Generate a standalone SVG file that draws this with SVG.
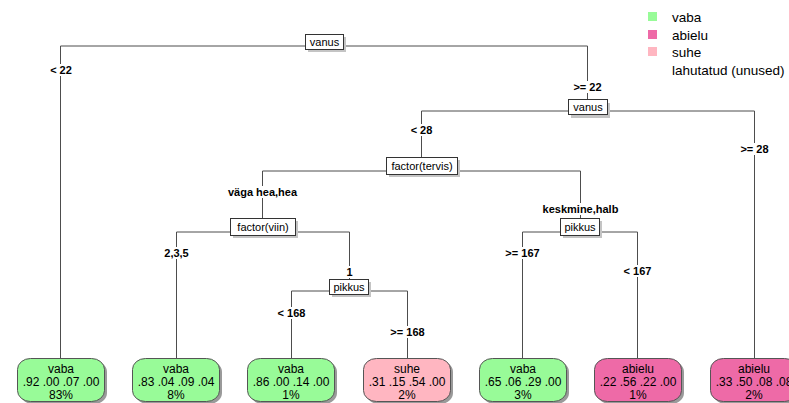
<svg xmlns="http://www.w3.org/2000/svg" width="789" height="403" viewBox="0 0 789 403">
  <style>
    text { font-family: "Liberation Sans", Arial, sans-serif; }
    .edge { stroke: #4d4d4d; stroke-width: 1; fill: none; }
    .split rect.box { fill: #ffffff; stroke: #333333; stroke-width: 1; }
    .split rect.shadow { fill: #c4c4c4; }
    .split text { font-size: 11px; fill: #000; text-anchor: middle; }
    .lab rect { fill: #ffffff; }
    .lab text { font-size: 11px; font-weight: bold; fill: #000; text-anchor: middle; }
    .leaf rect.shadow { fill: #9a9a9a; }
    .leaf rect.box { stroke: #555555; stroke-width: 1; }
    .leaf text { font-size: 12px; fill: #000; text-anchor: middle; }
    .vaba { fill: #98fb98; }
    .abielu { fill: #ee6aa7; }
    .suhe { fill: #ffb6c1; }
    .legend text { font-size: 13.5px; fill: #000; }
  </style>

  <rect width="789" height="403" fill="#ffffff"/>

  <!-- branches -->
  <g id="connectors">
    <path class="edge" d="M60.5,358 V46 H587.5 V100"/>
    <path class="edge" d="M421.5,157 V111 H754.5 V358"/>
    <path class="edge" d="M262.5,218 V171 H580.5 V218"/>
    <path class="edge" d="M176.5,358 V232 H349.5 V279"/>
    <path class="edge" d="M522.5,358 V232 H637.5 V358"/>
    <path class="edge" d="M291.5,358 V291 H407.5 V358"/>
  </g>

  <!-- branch labels -->
  <g id="edge-labels" class="lab">
    <rect x="47" y="64" width="28" height="12"/><text x="61" y="74">&lt; 22</text>
    <rect x="571" y="81" width="33" height="12"/><text x="587.5" y="91">&gt;= 22</text>
    <rect x="407" y="124" width="28" height="12"/><text x="421.5" y="134">&lt; 28</text>
    <rect x="738" y="143" width="33" height="12"/><text x="754.5" y="153">&gt;= 28</text>
    <rect x="222" y="186" width="81" height="12"/><text x="262.5" y="196">väga hea,hea</text>
    <rect x="541" y="203" width="79" height="12"/><text x="580.5" y="213">keskmine,halb</text>
    <rect x="160" y="247" width="33" height="12"/><text x="176.5" y="257">2,3,5</text>
    <rect x="343" y="266" width="13" height="12"/><text x="349.5" y="276">1</text>
    <rect x="503" y="247" width="39" height="12"/><text x="522.5" y="257">&gt;= 167</text>
    <rect x="621" y="265" width="34" height="12"/><text x="637.5" y="275">&lt; 167</text>
    <rect x="274" y="307" width="35" height="12"/><text x="291.5" y="317">&lt; 168</text>
    <rect x="388" y="326" width="39" height="12"/><text x="407.5" y="336">&gt;= 168</text>
  </g>

  <!-- split nodes -->
  <g id="node-root" class="split">
    <rect class="shadow" x="308" y="37" width="38" height="15"/>
    <rect class="box" x="305.5" y="34.5" width="38" height="15"/>
    <text x="324.5" y="46">vanus</text>
  </g>
  <g id="node-vanus2" class="split">
    <rect class="shadow" x="571" y="103" width="39" height="15"/>
    <rect class="box" x="568.5" y="99.5" width="39" height="15"/>
    <text x="588" y="111">vanus</text>
  </g>
  <g id="node-tervis" class="split">
    <rect class="shadow" x="389" y="160" width="71" height="17"/>
    <rect class="box" x="386.5" y="157.5" width="71" height="17"/>
    <text x="422" y="170">factor(tervis)</text>
  </g>
  <g id="node-viin" class="split">
    <rect class="shadow" x="233" y="221" width="65" height="17"/>
    <rect class="box" x="230.5" y="218.5" width="65" height="17"/>
    <text x="263" y="231">factor(viin)</text>
  </g>
  <g id="node-pikkus1" class="split">
    <rect class="shadow" x="332" y="282" width="39" height="15"/>
    <rect class="box" x="329.5" y="279.5" width="39" height="15"/>
    <text x="349" y="291">pikkus</text>
  </g>
  <g id="node-pikkus2" class="split">
    <rect class="shadow" x="563" y="221" width="39" height="17"/>
    <rect class="box" x="560.5" y="218.5" width="39" height="17"/>
    <text x="580" y="231">pikkus</text>
  </g>

  <!-- leaves -->
  <g id="leaf-1" class="leaf">
    <rect class="shadow" x="20" y="361" width="87" height="43" rx="13" ry="11"/>
    <rect class="box vaba" x="17.5" y="358.5" width="87" height="43" rx="13" ry="11"/>
    <text x="61" y="373">vaba</text>
    <text x="61" y="386">.92 .00 .07 .00</text>
    <text x="61" y="399">83%</text>
  </g>
  <g id="leaf-2" class="leaf">
    <rect class="shadow" x="135" y="361" width="87" height="43" rx="13" ry="11"/>
    <rect class="box vaba" x="132.5" y="358.5" width="87" height="43" rx="13" ry="11"/>
    <text x="176" y="373">vaba</text>
    <text x="176" y="386">.83 .04 .09 .04</text>
    <text x="176" y="399">8%</text>
  </g>
  <g id="leaf-3" class="leaf">
    <rect class="shadow" x="250" y="361" width="87" height="43" rx="13" ry="11"/>
    <rect class="box vaba" x="247.5" y="358.5" width="87" height="43" rx="13" ry="11"/>
    <text x="291" y="373">vaba</text>
    <text x="291" y="386">.86 .00 .14 .00</text>
    <text x="291" y="399">1%</text>
  </g>
  <g id="leaf-4" class="leaf">
    <rect class="shadow" x="366" y="361" width="87" height="43" rx="13" ry="11"/>
    <rect class="box suhe" x="363.5" y="358.5" width="87" height="43" rx="13" ry="11"/>
    <text x="407" y="373">suhe</text>
    <text x="407" y="386">.31 .15 .54 .00</text>
    <text x="407" y="399">2%</text>
  </g>
  <g id="leaf-5" class="leaf">
    <rect class="shadow" x="482" y="361" width="87" height="43" rx="13" ry="11"/>
    <rect class="box vaba" x="479.5" y="358.5" width="87" height="43" rx="13" ry="11"/>
    <text x="523" y="373">vaba</text>
    <text x="523" y="386">.65 .06 .29 .00</text>
    <text x="523" y="399">3%</text>
  </g>
  <g id="leaf-6" class="leaf">
    <rect class="shadow" x="597" y="361" width="87" height="43" rx="13" ry="11"/>
    <rect class="box abielu" x="594.5" y="358.5" width="87" height="43" rx="13" ry="11"/>
    <text x="638" y="373">abielu</text>
    <text x="638" y="386">.22 .56 .22 .00</text>
    <text x="638" y="399">1%</text>
  </g>
  <g id="leaf-7" class="leaf">
    <rect class="shadow" x="713" y="361" width="87" height="43" rx="13" ry="11"/>
    <rect class="box abielu" x="710.5" y="358.5" width="87" height="43" rx="13" ry="11"/>
    <text x="754" y="373">abielu</text>
    <text x="754" y="386">.33 .50 .08 .08</text>
    <text x="754" y="399">2%</text>
  </g>

  <!-- legend -->
  <g id="legend" class="legend">
    <rect class="vaba" x="648" y="12" width="9" height="9"/>
    <text x="672" y="22">vaba</text>
    <rect class="abielu" x="648" y="30" width="9" height="9"/>
    <text x="672" y="40">abielu</text>
    <rect class="suhe" x="648" y="47" width="9" height="9"/>
    <text x="672" y="57">suhe</text>
    <text x="672" y="75">lahutatud (unused)</text>
  </g>
</svg>
